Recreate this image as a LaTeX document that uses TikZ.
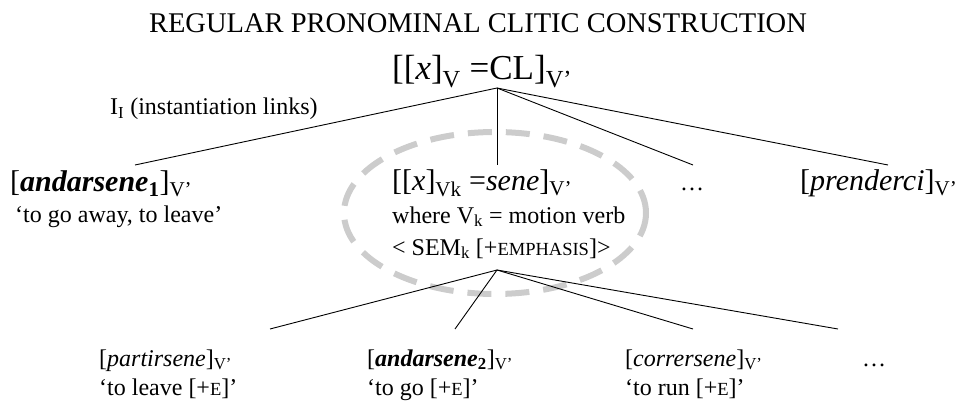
\documentclass[tikz,border=0pt]{standalone}
\usepackage{fontspec}
\setmainfont{Liberation Serif}
\newcommand\fsTitle{\fontsize{28.5}{32}\selectfont}
\newcommand\fsRoot{\fontsize{35}{40}\selectfont}
\newcommand\fsHead{\fontsize{30}{34}\selectfont}
\newcommand\fsBody{\fontsize{24}{28}\selectfont}
\newcommand\fakesc[1]{{\fontsize{18.5}{20}\selectfont #1}}
\begin{document}
\begin{tikzpicture}[x=1pt,y=-1pt,
  lbl/.style={inner sep=0pt, anchor=base west},
  link/.style={line width=0.9pt, black},
  oval/.style={draw=black!20, line width=6pt, dash pattern=on 24pt off 14pt}]
\useasboundingbox (0,0) rectangle (956,401);
% dashed oval
\draw[oval] (495,213) ellipse [x radius=151, y radius=81];
% title and root
\node[inner sep=0pt, anchor=base] (title) at (478,33) {\fsTitle REGULAR PRONOMINAL CLITIC CONSTRUCTION};
\node[lbl] (root) at (392,80) {\fsRoot [[\textit{x}]\textsubscript{V} =CL]\textsubscript{V’}};
\node[lbl] (inst) at (110,115) {\fsBody I\textsubscript{I} (instantiation links)};
% level 2
\node[lbl] (and1) at (10,191) {\fsHead [\textbf{\textit{andarsene}\textsubscript{1}}]\textsubscript{V’}};
\node[lbl] (gl1) at (15,222) {\fsBody ‘to go away, to leave’};
\node[lbl] (mid) at (392,190) {\fsHead [[\textit{x}]\textsubscript{Vk} =\textit{sene}]\textsubscript{V’}};
\node[lbl] (where) at (392,223) {\fsBody where V\textsubscript{k} = motion verb};
\node[lbl] (sem) at (392,255) {\fsBody < SEM\textsubscript{k} [+\fakesc{EMPHASIS}]>};
\node[lbl] (dots1) at (680,190) {\fsBody \dots};
\node[lbl] (prend) at (800,190) {\fsHead [\textit{prenderci}]\textsubscript{V’}};
% level 3
\node[lbl] (part) at (99,366) {\fsBody [\textit{partirsene}]\textsubscript{V’}};
\node[lbl] (partg) at (99,395) {\fsBody ‘to leave [+\fakesc{E}]’};
\node[lbl] (and2) at (367,366) {\fsBody [\textbf{\textit{andarsene}\textsubscript{2}}]\textsubscript{V’}};
\node[lbl] (and2g) at (367,395) {\fsBody ‘to go [+\fakesc{E}]’};
\node[lbl] (corr) at (625,366) {\fsBody [\textit{corrersene}]\textsubscript{V’}};
\node[lbl] (corrg) at (625,395) {\fsBody ‘to run [+\fakesc{E}]’};
\node[lbl] (dots2) at (862,366) {\fsBody \dots};
% connector points
\coordinate (apex) at (497,88);
\coordinate (e1) at (135,165);
\coordinate (e2) at (497,165);
\coordinate (e3) at (693,165);
\coordinate (e4) at (888,165);
\coordinate (apex2) at (497,270);
\coordinate (f1) at (270,329);
\coordinate (f2) at (455,329);
\coordinate (f3) at (693,329);
\coordinate (f4) at (838,329);
\draw[link] (apex) -- (e1);
\draw[link] (apex) -- (e2);
\draw[link] (apex) -- (e3);
\draw[link] (apex) -- (e4);
\draw[link] (apex2) -- (f1);
\draw[link] (apex2) -- (f2);
\draw[link] (apex2) -- (f3);
\draw[link] (apex2) -- (f4);
\end{tikzpicture}
\end{document}
